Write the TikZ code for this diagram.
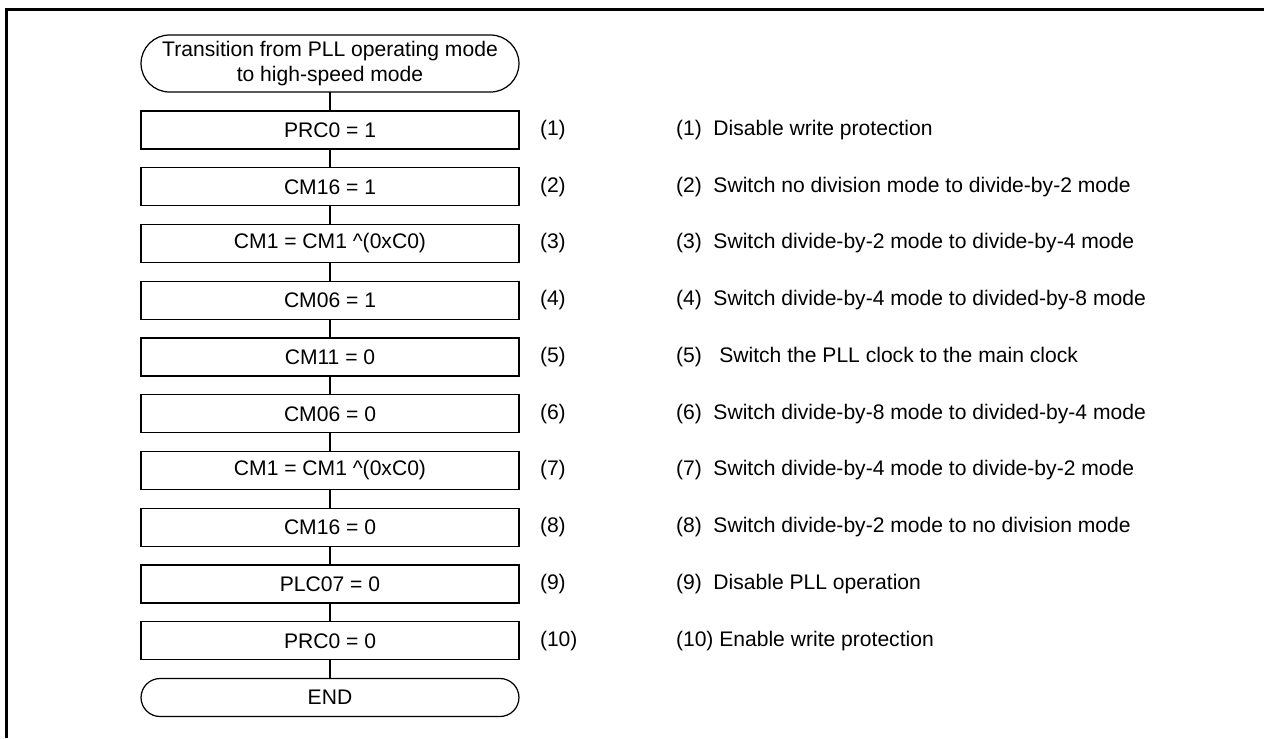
\documentclass[tikz,border=0pt]{standalone}
\usepackage{fontspec}
\setmainfont{Liberation Sans}

\begin{document}
\begin{tikzpicture}[x=0.02cm, y=-0.02cm, font=\fontsize{12}{14}\selectfont,
  every node/.style={inner sep=0pt, outer sep=0pt},
  stepbox/.style={draw, line width=0.7pt, minimum width=7.56cm, minimum height=0.76cm},
  termbox/.style={draw, line width=0.7pt, minimum width=7.56cm, align=center, rounded corners=#1},
  tag/.style={anchor=west},
  note/.style={anchor=west}]
\useasboundingbox (0,0) rectangle (1264,738);

% frame
\draw[line width=1.7pt] (6.5,738) -- (6.5,9.7) -- (1264,9.7);

% flow
\node[termbox=0.57cm, minimum height=1.14cm] (start) at (330,63.5) {Transition from PLL operating mode\\to high-speed mode};
\node[stepbox] (s1) at (330,130) {PRC0 = 1};
\node[stepbox] (s2) at (330,186.75) {CM16 = 1};
\node[stepbox] (s3) at (330,243.5) {CM1 = CM1 \^{}(0xC0)};
\node[stepbox] (s4) at (330,300.25) {CM06 = 1};
\node[stepbox] (s5) at (330,357) {CM11 = 0};
\node[stepbox] (s6) at (330,413.75) {CM06 = 0};
\node[stepbox] (s7) at (330,470.5) {CM1 = CM1 \^{}(0xC0)};
\node[stepbox] (s8) at (330,527.25) {CM16 = 0};
\node[stepbox] (s9) at (330,584) {PLC07 = 0};
\node[stepbox] (s10) at (330,640.75) {PRC0 = 0};
\node[termbox=0.38cm, minimum height=0.76cm] (end) at (330,697.5) {END};

\draw[line width=0.7pt] (start) -- (s1) -- (s2) -- (s3) -- (s4) -- (s5) -- (s6) -- (s7) -- (s8) -- (s9) -- (s10) -- (end);

% step numbers
\node[tag] (t1) at (540,130) {(1)};
\node[tag] (t2) at (540,186.75) {(2)};
\node[tag] (t3) at (540,243.5) {(3)};
\node[tag] (t4) at (540,300.25) {(4)};
\node[tag] (t5) at (540,357) {(5)};
\node[tag] (t6) at (540,413.75) {(6)};
\node[tag] (t7) at (540,470.5) {(7)};
\node[tag] (t8) at (540,527.25) {(8)};
\node[tag] (t9) at (540,584) {(9)};
\node[tag] (t10) at (540,640.75) {(10)};

% notes
\node[note] (n1) at (676,130) {(1)\ \ Disable write protection};
\node[note] (n2) at (676,186.75) {(2)\ \ Switch no division mode to divide-by-2 mode};
\node[note] (n3) at (676,243.5) {(3)\ \ Switch divide-by-2 mode to divide-by-4 mode};
\node[note] (n4) at (676,300.25) {(4)\ \ Switch divide-by-4 mode to divided-by-8 mode};
\node[note] (n5) at (676,357) {(5)\ \ \ Switch the PLL clock to the main clock};
\node[note] (n6) at (676,413.75) {(6)\ \ Switch divide-by-8 mode to divided-by-4 mode};
\node[note] (n7) at (676,470.5) {(7)\ \ Switch divide-by-4 mode to divide-by-2 mode};
\node[note] (n8) at (676,527.25) {(8)\ \ Switch divide-by-2 mode to no division mode};
\node[note] (n9) at (676,584) {(9)\ \ Disable PLL operation};
\node[note] (n10) at (676,640.75) {(10) Enable write protection};
\end{tikzpicture}
\end{document}
